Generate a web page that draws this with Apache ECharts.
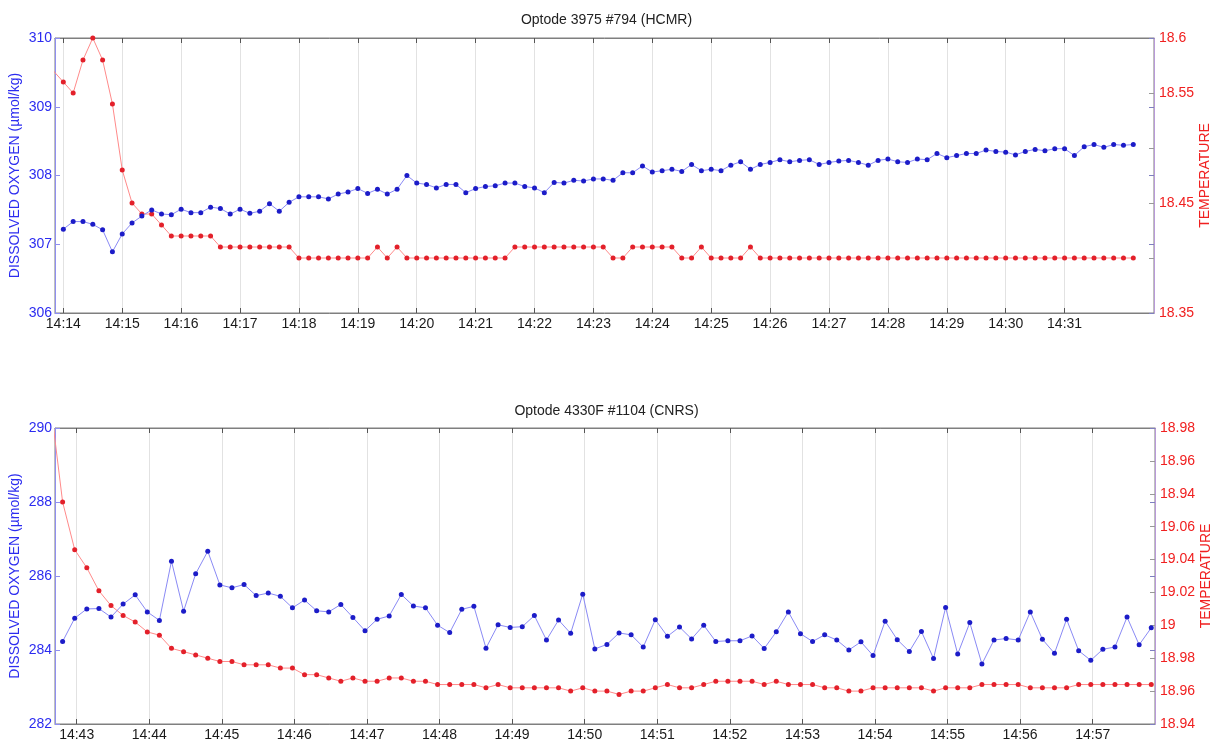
<!DOCTYPE html>
<html><head><meta charset="utf-8">
<script src="https://cdn.jsdelivr.net/npm/echarts@6/dist/echarts.min.js"></script>
<style>html,body{margin:0;padding:0;background:#fff}#c{width:1213px;height:743px}</style>
</head><body><div id="c"></div>
<script>
// ---------------- DATA ----------------
const SAMPLE_STEP_S = 10;

const topTitle = 'Optode 3975 #794 (HCMR)';
const topStart = '14:13:50';
const topOxygen = [null,
 307.22,307.33,307.33,307.29,307.21,306.89,307.15,307.31,307.41,307.50,
 307.44,307.43,307.51,307.46,307.46,307.54,307.52,307.44,307.51,307.45,
 307.48,307.59,307.48,307.61,307.69,307.69,307.69,307.66,307.73,307.76,
 307.81,307.74,307.80,307.73,307.80,308.00,307.89,307.87,307.82,307.87,
 307.87,307.75,307.81,307.84,307.85,307.89,307.89,307.84,307.82,307.75,
 307.90,307.89,307.93,307.92,307.95,307.95,307.93,308.04,308.04,308.14,
 308.05,308.07,308.09,308.06,308.16,308.07,308.09,308.07,308.15,308.20,
 308.09,308.16,308.19,308.23,308.20,308.22,308.23,308.16,308.19,308.21,
 308.22,308.19,308.15,308.22,308.24,308.20,308.19,308.24,308.23,308.32,
 308.26,308.29,308.32,308.32,308.37,308.35,308.34,308.30,308.35,308.38,
 308.36,308.39,308.39,308.29,308.42,308.45,308.41,308.45,308.44,308.45];
const topTemp = [18.57,
 18.56,18.55,18.58,18.60,18.58,18.54,18.48,18.45,18.44,18.44,
 18.43,18.42,18.42,18.42,18.42,18.42,18.41,18.41,18.41,18.41,
 18.41,18.41,18.41,18.41,18.40,18.40,18.40,18.40,18.40,18.40,
 18.40,18.40,18.41,18.40,18.41,18.40,18.40,18.40,18.40,18.40,
 18.40,18.40,18.40,18.40,18.40,18.40,18.41,18.41,18.41,18.41,
 18.41,18.41,18.41,18.41,18.41,18.41,18.40,18.40,18.41,18.41,
 18.41,18.41,18.41,18.40,18.40,18.41,18.40,18.40,18.40,18.40,
 18.41,18.40,18.40,18.40,18.40,18.40,18.40,18.40,18.40,18.40,
 18.40,18.40,18.40,18.40,18.40,18.40,18.40,18.40,18.40,18.40,
 18.40,18.40,18.40,18.40,18.40,18.40,18.40,18.40,18.40,18.40,
 18.40,18.40,18.40,18.40,18.40,18.40,18.40,18.40,18.40,18.40];
const topTimeTicks = ['14:14','14:15','14:16','14:17','14:18','14:19','14:20','14:21','14:22',
 '14:23','14:24','14:25','14:26','14:27','14:28','14:29','14:30','14:31'];
const topTempTickLabels = ['18.35','','18.45','','18.55','18.6'];

const bottomTitle = 'Optode 4330F #1104 (CNRS)';
const bottomStart = '14:42:38.4';
const bottomOxygen = [null,
 284.23,284.86,285.11,285.12,284.89,285.24,285.49,285.03,284.80,286.40,
 285.05,286.06,286.67,285.76,285.68,285.77,285.47,285.54,285.45,285.14,
 285.35,285.06,285.03,285.23,284.88,284.52,284.83,284.92,285.50,285.19,
 285.14,284.67,284.47,285.10,285.18,284.05,284.68,284.61,284.63,284.93,
 284.27,284.81,284.45,285.51,284.03,284.15,284.46,284.41,284.08,284.82,
 284.37,284.62,284.30,284.67,284.23,284.25,284.25,284.38,284.04,284.49,
 285.03,284.44,284.23,284.41,284.27,284.00,284.22,283.85,284.78,284.28,
 283.96,284.50,283.77,285.15,283.89,284.74,283.62,284.27,284.31,284.27,
 285.03,284.29,283.91,284.83,283.98,283.72,284.02,284.08,284.89,284.14,
 284.60];
const bottomTemp = [19.135,
 19.075,19.046,19.035,19.021,19.012,19.006,19.002,18.996,18.994,18.986,
 18.984,18.982,18.980,18.978,18.978,18.976,18.976,18.976,18.974,18.974,
 18.970,18.970,18.968,18.966,18.968,18.966,18.966,18.968,18.968,18.966,
 18.966,18.964,18.964,18.964,18.964,18.962,18.964,18.962,18.962,18.962,
 18.962,18.962,18.960,18.962,18.960,18.960,18.958,18.960,18.960,18.962,
 18.964,18.962,18.962,18.964,18.966,18.966,18.966,18.966,18.964,18.966,
 18.964,18.964,18.964,18.962,18.962,18.960,18.960,18.962,18.962,18.962,
 18.962,18.962,18.960,18.962,18.962,18.962,18.964,18.964,18.964,18.964,
 18.962,18.962,18.962,18.962,18.964,18.964,18.964,18.964,18.964,18.964,
 18.964];
const bottomTimeTicks = ['14:43','14:44','14:45','14:46','14:47','14:48','14:49','14:50',
 '14:51','14:52','14:53','14:54','14:55','14:56','14:57'];
const bottomTempTickLabels = ['18.94','18.96','18.98','19','19.02','19.04','19.06','18.94','18.96','18.98'];

// ---------------- HELPERS ----------------
function tSec(s){const p=s.split(':').map(Number);return p[0]*3600+p[1]*60+(p[2]||0);}
function fmtTime(v){const m=Math.round(v/60);const h=Math.floor(m/60);const mm=m%60;return h+':'+(mm<10?'0':'')+mm;}
function series(arr,start){const t0=tSec(start);return arr.map((v,i)=>[t0+i*SAMPLE_STEP_S,v]);}

const FONT='"Liberation Sans", Arial, Helvetica, sans-serif';
const FS=14;
const BLUE_DOT='#1c1cc8', BLUE_LINE='#8a8af5', BLUE_TXT='#2c2cf0', BLUE_AX='#8f8ff0';
const RED_DOT='#e3202a', RED_LINE='#ff8a8a', RED_TXT='#f02020', PURPLE_AX='#b99ad9';
const FRAME='#7f7f7f';

function xAxes(gridIndex,min,max,ticks){
  const tv=ticks.map(tSec);
  return [{
    type:'value',gridIndex,min,max,position:'bottom',
    axisLine:{show:true,onZero:false,lineStyle:{color:FRAME,width:1}},
    axisTick:{show:true,inside:true,length:5,customValues:tv,lineStyle:{color:'#555'}},
    axisLabel:{show:true,customValues:tv,formatter:fmtTime,color:'#1a1a1a',fontSize:FS,margin:4,fontFamily:FONT},
    splitLine:{show:true,lineStyle:{color:'#e2e2e2',width:1}}
  },{
    type:'value',gridIndex,min,max,position:'top',
    axisLine:{show:true,onZero:false,lineStyle:{color:FRAME,width:1}},
    axisTick:{show:true,inside:true,length:5,customValues:tv,lineStyle:{color:'#555'}},
    axisLabel:{show:false},splitLine:{show:false}
  }];
}

function yLeft(gridIndex,min,max,interval){
  return {type:'value',gridIndex,min,max,interval,position:'left',
    name:'DISSOLVED OXYGEN (µmol/kg)',nameLocation:'middle',nameGap:33,nameMoveOverlap:false,
    nameTextStyle:{color:BLUE_TXT,fontSize:FS,fontFamily:FONT},
    axisLine:{show:true,onZero:false,lineStyle:{color:BLUE_AX,width:1}},
    axisTick:{show:true,inside:true,length:5,lineStyle:{color:BLUE_AX}},
    axisLabel:{color:BLUE_TXT,fontSize:FS,margin:3,fontFamily:FONT},
    splitLine:{show:false}};
}
function yLeftMirror(gridIndex,min,max,interval){
  return {type:'value',gridIndex,min,max,interval,position:'right',
    axisLine:{show:false},axisTick:{show:true,inside:true,length:5,lineStyle:{color:'#7f7fc0'}},
    axisLabel:{show:false},splitLine:{show:false}};
}
function yRight(gridIndex,min,max,interval,labels){
  return {type:'value',gridIndex,min,max,interval,position:'right',
    name:'TEMPERATURE',nameLocation:'middle',nameGap:44,nameMoveOverlap:false,
    nameTextStyle:{color:RED_TXT,fontSize:FS,fontFamily:FONT},
    axisLine:{show:true,onZero:false,lineStyle:{color:PURPLE_AX,width:1}},
    axisTick:{show:true,inside:true,length:5,lineStyle:{color:'#999'}},
    axisLabel:{color:RED_TXT,fontSize:FS,margin:5,fontFamily:FONT,
      formatter:v=>labels[Math.round((v-min)/interval)]??''},
    splitLine:{show:false}};
}
function lineSeries(data,xIdx,yIdx,dot,line,z){
  return {type:'line',xAxisIndex:xIdx,yAxisIndex:yIdx,data,symbol:'circle',symbolSize:5,
    showSymbol:true,itemStyle:{color:dot,borderWidth:0},lineStyle:{color:line,width:1},
    z,animation:false,clip:true};
}

const option={
  animation:false,backgroundColor:'#ffffff',
  title:[
    {text:topTitle,left:'center',top:8,textStyle:{fontSize:FS,fontWeight:'normal',color:'#222',fontFamily:FONT}},
    {text:bottomTitle,left:'center',top:399,textStyle:{fontSize:FS,fontWeight:'normal',color:'#222',fontFamily:FONT}}
  ],
  grid:[
    {left:55,right:59,top:38,height:275,show:true,borderColor:FRAME,borderWidth:1,backgroundColor:'#fff',containLabel:false,outerBoundsMode:'none'},
    {left:55,right:58,top:428,height:296,show:true,borderColor:FRAME,borderWidth:1,backgroundColor:'#fff',containLabel:false,outerBoundsMode:'none'}
  ],
  xAxis:[
    ...xAxes(0,tSec('14:13:51.5'),tSec('14:32:31.1'),topTimeTicks),
    ...xAxes(1,tSec('14:42:42.1'),tSec('14:57:51.5'),bottomTimeTicks)
  ],
  yAxis:[
    yLeft(0,306,310,1),
    yRight(0,18.35,18.6,0.05,topTempTickLabels),
    yLeftMirror(0,306,310,1),
    yLeft(1,282,290,2),
    yRight(1,18.94,19.12,0.02,bottomTempTickLabels),
    yLeftMirror(1,282,290,2)
  ],
  series:[
    lineSeries(series(topTemp,topStart),0,1,RED_DOT,RED_LINE,3),
    lineSeries(series(topOxygen,topStart),0,0,BLUE_DOT,BLUE_LINE,4),
    lineSeries(series(bottomTemp,bottomStart),2,4,RED_DOT,RED_LINE,3),
    lineSeries(series(bottomOxygen,bottomStart),2,3,BLUE_DOT,BLUE_LINE,4)
  ]
};
const chart=echarts.init(document.getElementById('c'),null,{renderer:'canvas'});
chart.setOption(option);
</script></body></html>
